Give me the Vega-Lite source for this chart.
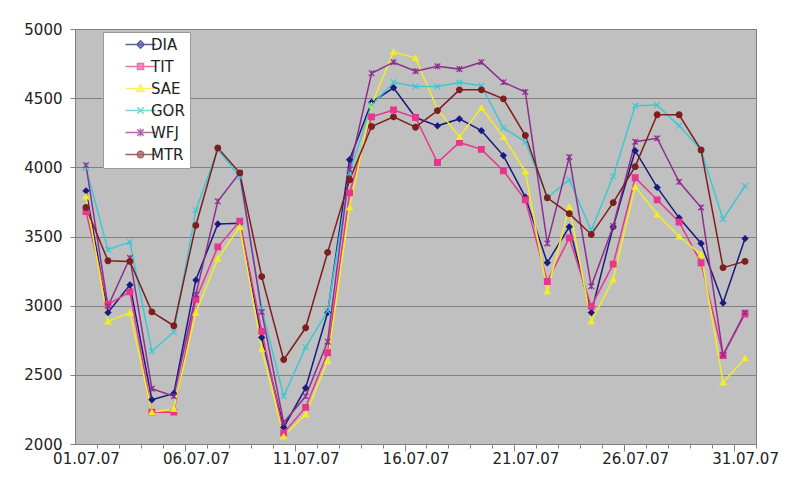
{
  "$schema": "https://vega.github.io/schema/vega-lite/v6.json",
  "autosize": {"type": "none"},
  "width": 681,
  "height": 415,
  "padding": {"left": 75, "top": 29, "right": 33, "bottom": 42},
  "background": "white",
  "config": {
    "view": {"fill": "#C0C0C0", "stroke": "#808080", "strokeWidth": 1},
    "axis": {"labelFont": "DejaVu Sans", "labelFontSize": 15, "labelColor": "#222222", "domainColor": "#808080", "tickColor": "#808080", "title": null},
    "legend": {"labelFont": "DejaVu Sans", "labelFontSize": 15, "labelColor": "#222222"}
  },
  "data": {"values": [
    {"day":1,"series":"DIA","value":3830},{"day":2,"series":"DIA","value":2950},{"day":3,"series":"DIA","value":3150},{"day":4,"series":"DIA","value":2320},{"day":5,"series":"DIA","value":2365},{"day":6,"series":"DIA","value":3185},{"day":7,"series":"DIA","value":3590},{"day":8,"series":"DIA","value":3595},{"day":9,"series":"DIA","value":2770},{"day":10,"series":"DIA","value":2120},{"day":11,"series":"DIA","value":2405},{"day":12,"series":"DIA","value":2950},{"day":13,"series":"DIA","value":4055},{"day":14,"series":"DIA","value":4470},{"day":15,"series":"DIA","value":4575},{"day":16,"series":"DIA","value":4360},{"day":17,"series":"DIA","value":4300},{"day":18,"series":"DIA","value":4350},{"day":19,"series":"DIA","value":4265},{"day":20,"series":"DIA","value":4085},{"day":21,"series":"DIA","value":3785},{"day":22,"series":"DIA","value":3310},{"day":23,"series":"DIA","value":3570},{"day":24,"series":"DIA","value":2950},{"day":25,"series":"DIA","value":3570},{"day":26,"series":"DIA","value":4120},{"day":27,"series":"DIA","value":3855},{"day":28,"series":"DIA","value":3635},{"day":29,"series":"DIA","value":3450},{"day":30,"series":"DIA","value":3020},{"day":31,"series":"DIA","value":3485},
    {"day":1,"series":"TIT","value":3680},{"day":2,"series":"TIT","value":3010},{"day":3,"series":"TIT","value":3100},{"day":4,"series":"TIT","value":2230},{"day":5,"series":"TIT","value":2230},{"day":6,"series":"TIT","value":3045},{"day":7,"series":"TIT","value":3425},{"day":8,"series":"TIT","value":3610},{"day":9,"series":"TIT","value":2815},{"day":10,"series":"TIT","value":2080},{"day":11,"series":"TIT","value":2265},{"day":12,"series":"TIT","value":2660},{"day":13,"series":"TIT","value":3815},{"day":14,"series":"TIT","value":4365},{"day":15,"series":"TIT","value":4415},{"day":16,"series":"TIT","value":4360},{"day":17,"series":"TIT","value":4035},{"day":18,"series":"TIT","value":4180},{"day":19,"series":"TIT","value":4130},{"day":20,"series":"TIT","value":3975},{"day":21,"series":"TIT","value":3765},{"day":22,"series":"TIT","value":3175},{"day":23,"series":"TIT","value":3490},{"day":24,"series":"TIT","value":2995},{"day":25,"series":"TIT","value":3300},{"day":26,"series":"TIT","value":3925},{"day":27,"series":"TIT","value":3765},{"day":28,"series":"TIT","value":3605},{"day":29,"series":"TIT","value":3310},{"day":30,"series":"TIT","value":2640},{"day":31,"series":"TIT","value":2940},
    {"day":1,"series":"SAE","value":3790},{"day":2,"series":"SAE","value":2885},{"day":3,"series":"SAE","value":2950},{"day":4,"series":"SAE","value":2230},{"day":5,"series":"SAE","value":2255},{"day":6,"series":"SAE","value":2950},{"day":7,"series":"SAE","value":3340},{"day":8,"series":"SAE","value":3570},{"day":9,"series":"SAE","value":2685},{"day":10,"series":"SAE","value":2055},{"day":11,"series":"SAE","value":2215},{"day":12,"series":"SAE","value":2600},{"day":13,"series":"SAE","value":3710},{"day":14,"series":"SAE","value":4450},{"day":15,"series":"SAE","value":4835},{"day":16,"series":"SAE","value":4790},{"day":17,"series":"SAE","value":4420},{"day":18,"series":"SAE","value":4220},{"day":19,"series":"SAE","value":4430},{"day":20,"series":"SAE","value":4220},{"day":21,"series":"SAE","value":3970},{"day":22,"series":"SAE","value":3105},{"day":23,"series":"SAE","value":3715},{"day":24,"series":"SAE","value":2885},{"day":25,"series":"SAE","value":3190},{"day":26,"series":"SAE","value":3860},{"day":27,"series":"SAE","value":3660},{"day":28,"series":"SAE","value":3500},{"day":29,"series":"SAE","value":3370},{"day":30,"series":"SAE","value":2445},{"day":31,"series":"SAE","value":2620},
    {"day":1,"series":"GOR","value":3995},{"day":2,"series":"GOR","value":3405},{"day":3,"series":"GOR","value":3460},{"day":4,"series":"GOR","value":2670},{"day":5,"series":"GOR","value":2810},{"day":6,"series":"GOR","value":3690},{"day":7,"series":"GOR","value":4130},{"day":8,"series":"GOR","value":3930},{"day":9,"series":"GOR","value":2980},{"day":10,"series":"GOR","value":2345},{"day":11,"series":"GOR","value":2700},{"day":12,"series":"GOR","value":2960},{"day":13,"series":"GOR","value":3960},{"day":14,"series":"GOR","value":4450},{"day":15,"series":"GOR","value":4615},{"day":16,"series":"GOR","value":4585},{"day":17,"series":"GOR","value":4585},{"day":18,"series":"GOR","value":4613},{"day":19,"series":"GOR","value":4590},{"day":20,"series":"GOR","value":4285},{"day":21,"series":"GOR","value":4185},{"day":22,"series":"GOR","value":3780},{"day":23,"series":"GOR","value":3910},{"day":24,"series":"GOR","value":3545},{"day":25,"series":"GOR","value":3935},{"day":26,"series":"GOR","value":4445},{"day":27,"series":"GOR","value":4450},{"day":28,"series":"GOR","value":4300},{"day":29,"series":"GOR","value":4125},{"day":30,"series":"GOR","value":3625},{"day":31,"series":"GOR","value":3865},
    {"day":1,"series":"WFJ","value":4015},{"day":2,"series":"WFJ","value":2995},{"day":3,"series":"WFJ","value":3345},{"day":4,"series":"WFJ","value":2400},{"day":5,"series":"WFJ","value":2345},{"day":6,"series":"WFJ","value":3080},{"day":7,"series":"WFJ","value":3755},{"day":8,"series":"WFJ","value":3960},{"day":9,"series":"WFJ","value":2955},{"day":10,"series":"WFJ","value":2155},{"day":11,"series":"WFJ","value":2345},{"day":12,"series":"WFJ","value":2740},{"day":13,"series":"WFJ","value":3985},{"day":14,"series":"WFJ","value":4680},{"day":15,"series":"WFJ","value":4760},{"day":16,"series":"WFJ","value":4695},{"day":17,"series":"WFJ","value":4730},{"day":18,"series":"WFJ","value":4710},{"day":19,"series":"WFJ","value":4760},{"day":20,"series":"WFJ","value":4615},{"day":21,"series":"WFJ","value":4545},{"day":22,"series":"WFJ","value":3450},{"day":23,"series":"WFJ","value":4075},{"day":24,"series":"WFJ","value":3140},{"day":25,"series":"WFJ","value":3575},{"day":26,"series":"WFJ","value":4185},{"day":27,"series":"WFJ","value":4210},{"day":28,"series":"WFJ","value":3895},{"day":29,"series":"WFJ","value":3710},{"day":30,"series":"WFJ","value":2645},{"day":31,"series":"WFJ","value":2950},
    {"day":1,"series":"MTR","value":3710},{"day":2,"series":"MTR","value":3325},{"day":3,"series":"MTR","value":3320},{"day":4,"series":"MTR","value":2955},{"day":5,"series":"MTR","value":2855},{"day":6,"series":"MTR","value":3580},{"day":7,"series":"MTR","value":4140},{"day":8,"series":"MTR","value":3960},{"day":9,"series":"MTR","value":3210},{"day":10,"series":"MTR","value":2610},{"day":11,"series":"MTR","value":2840},{"day":12,"series":"MTR","value":3385},{"day":13,"series":"MTR","value":3910},{"day":14,"series":"MTR","value":4295},{"day":15,"series":"MTR","value":4365},{"day":16,"series":"MTR","value":4290},{"day":17,"series":"MTR","value":4410},{"day":18,"series":"MTR","value":4560},{"day":19,"series":"MTR","value":4560},{"day":20,"series":"MTR","value":4495},{"day":21,"series":"MTR","value":4230},{"day":22,"series":"MTR","value":3780},{"day":23,"series":"MTR","value":3665},{"day":24,"series":"MTR","value":3515},{"day":25,"series":"MTR","value":3745},{"day":26,"series":"MTR","value":4005},{"day":27,"series":"MTR","value":4380},{"day":28,"series":"MTR","value":4380},{"day":29,"series":"MTR","value":4125},{"day":30,"series":"MTR","value":3275},{"day":31,"series":"MTR","value":3320}
  ]},
  "encoding": {
    "x": {
      "field": "day", "type": "quantitative",
      "scale": {"domain": [0.5, 31.5], "nice": false, "zero": false},
      "axis": {
        "values": [1,2,3,4,5,6,7,8,9,10,11,12,13,14,15,16,17,18,19,20,21,22,23,24,25,26,27,28,29,30,31],
        "grid": false,
        "tickOffset": 10.98,
        "labelOffset": -10.98,
        "tickSize": {"condition": {"test": "datum.value % 5 == 0", "value": 7}, "value": 4},
        "labelPadding": 3,
        "labelOverlap": false,
        "labelFlush": false,
        "labelExpr": "datum.value % 5 == 1 ? (datum.value < 10 ? '0' : '') + datum.value + '.07.07' : ''"
      }
    },
    "y": {
      "field": "value", "type": "quantitative",
      "scale": {"domain": [2000, 5000], "nice": false, "zero": false},
      "axis": {"values": [2000, 2500, 3000, 3500, 4000, 4500, 5000], "grid": true, "gridColor": "#808080", "gridOpacity": 1, "tickSize": 5, "labelPadding": 8, "format": "d"}
    }
  },
  "layer": [
    {
      "mark": {"type": "line", "strokeWidth": 1.5},
      "encoding": {
        "stroke": {"field": "series", "type": "nominal", "legend": null,
          "scale": {"domain": ["DIA","TIT","SAE","GOR","WFJ","MTR"], "range": ["#1a1a80","#E8358E","#F2EE22","#3CC8D2","#8E2E8E","#7E1E1E"]}}
      }
    },
    {
      "mark": {"type": "point", "filled": true, "size": 32, "strokeWidth": 1.2, "opacity": 1},
      "encoding": {
        "stroke": {"field": "series", "type": "nominal", "legend": null},
        "fill": {"field": "series", "type": "nominal", "legend": null,
          "scale": {"domain": ["DIA","TIT","SAE","GOR","WFJ","MTR"], "range": ["#1a1a80","#E8358E","#F2EE22","#3CC8D2","#8E2E8E","#7E1E1E"]}},
        "shape": {"field": "series", "type": "nominal", "legend": null,
          "scale": {"domain": ["DIA","TIT","SAE","GOR","WFJ","MTR"], "range": ["diamond","square","triangle-up","M-1,-1L1,1M-1,1L1,-1","M-1,-1L1,1M-1,1L1,-1M0,-1L0,1","circle"]}}
      }
    },
    {
      "transform": [{"filter": "false"}],
      "mark": {"type": "point", "filled": true, "strokeWidth": 1.5},
      "encoding": {
        "stroke": {"field": "series", "type": "nominal",
          "legend": {"title": null, "orient": "none", "legendX": 28, "legendY": 3, "fillColor": "white", "strokeColor": "#9a9a9a", "padding": 5, "rowPadding": 6, "symbolSize": 100, "symbolOffset": 25, "labelOffset": 3, "symbolStrokeWidth": 1.5}},
        "fill": {"field": "series", "type": "nominal",
          "legend": {"title": null, "orient": "none", "legendX": 28, "legendY": 3, "fillColor": "white", "strokeColor": "#9a9a9a", "padding": 5, "rowPadding": 6, "symbolSize": 100, "symbolOffset": 25, "labelOffset": 3, "symbolStrokeWidth": 1.5}},
        "shape": {"field": "series", "type": "nominal",
          "scale": {"domain": ["DIA","TIT","SAE","GOR","WFJ","MTR"], "range": [
            "M-3,0L3,0M0,-0.75L0.75,0L0,0.75L-0.75,0Z",
            "M-3,0L3,0M-0.6,-0.6L0.6,-0.6L0.6,0.6L-0.6,0.6Z",
            "M-3,0L3,0M0,-0.75L0.75,0.6L-0.75,0.6Z",
            "M-3,0L3,0M-0.65,-0.65L0.65,0.65M-0.65,0.65L0.65,-0.65",
            "M-3,0L3,0M-0.65,-0.65L0.65,0.65M-0.65,0.65L0.65,-0.65M0,-0.8L0,0.8",
            "M-3,0L3,0M-0.65,0A0.65,0.65,0,1,0,0.65,0A0.65,0.65,0,1,0,-0.65,0Z"]},
          "legend": {"title": null, "orient": "none", "legendX": 28, "legendY": 3, "fillColor": "white", "strokeColor": "#9a9a9a", "padding": 5, "rowPadding": 6, "symbolSize": 100, "symbolOffset": 25, "labelOffset": 3, "symbolStrokeWidth": 1.5}}
      }
    }
  ],
  "resolve": {
    "scale": {"shape": "independent"},
    "legend": {"fill": "independent", "stroke": "independent", "shape": "independent"}
  }
}
